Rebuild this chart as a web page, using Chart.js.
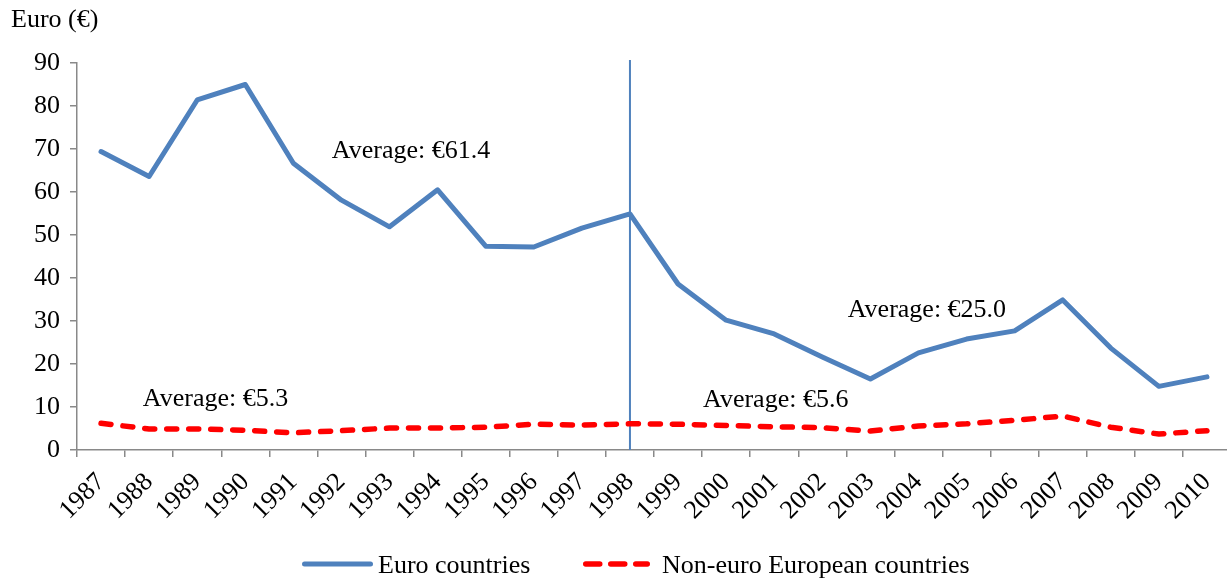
<!DOCTYPE html>
<html>
<head>
<meta charset="utf-8">
<script src="https://cdn.jsdelivr.net/npm/chart.js@4.4.1/dist/chart.umd.min.js"></script>
<style>
    html, body { margin: 0; padding: 0; background: #fff; overflow: hidden; }
    #wrap { width: 1240px; height: 579px; }
</style>
</head>
<body>
<div id="wrap"><canvas id="chart"></canvas></div>
<script>
const years = ['1987', '1988', '1989', '1990', '1991', '1992', '1993', '1994', '1995', '1996', '1997', '1998',
               '1999', '2000', '2001', '2002', '2003', '2004', '2005', '2006', '2007', '2008', '2009', '2010'];

const euroCountries = [69.4, 63.6, 81.4, 85.0, 66.7, 58.1, 51.9, 60.5, 47.4, 47.2, 51.6, 54.9,
                       38.6, 30.2, 27.0, 21.6, 16.5, 22.6, 25.8, 27.7, 34.9, 23.7, 14.8, 17.0];

const nonEuroCountries = [6.2, 4.9, 4.9, 4.6, 4.0, 4.5, 5.1, 5.1, 5.3, 6.0, 5.8, 6.1,
                          6.0, 5.7, 5.4, 5.2, 4.4, 5.6, 6.1, 6.9, 7.9, 5.3, 3.7, 4.5];

const yMin = 0;
const yMax = 90;
const yStep = 10;

const splitYear = '1998';

// average labels: text plus anchor in data units (category index, value)
const averageLabels = [
    { text: 'Average: €61.4', at: [4.80, 67.9] },
    { text: 'Average: €25.0', at: [15.53, 30.9] },
    { text: 'Average: €5.3', at: [0.87, 10.2] },
    { text: 'Average: €5.6', at: [12.52, 10.0] }
];

const FONT = '"Liberation Serif", "Times New Roman", serif';
const AXIS_GRAY = '#898989';

// legend is drawn by hand so the sample/text spacing matches the original
const legendSlots = [
    { x0: 302, x1: 373, textX: 378, dash: [] },
    { x0: 583, x1: 650, textX: 662, dash: [14, 11] }
];
const LEGEND_Y = 564;

const extras = {
    id: 'extras',
    beforeDatasetsDraw(chart) {
        const { ctx, chartArea, scales: { x } } = chart;
        const xd = x.getPixelForValue(years.indexOf(splitYear));
        ctx.save();
        ctx.strokeStyle = '#4F81BD';
        ctx.lineWidth = 2;
        ctx.beginPath();
        ctx.moveTo(xd, chartArea.top - 3);
        ctx.lineTo(xd, chartArea.bottom);
        ctx.stroke();
        ctx.restore();
    },
    afterDraw(chart) {
        const { ctx, scales: { x, y } } = chart;
        ctx.save();
        ctx.font = '26px ' + FONT;
        ctx.fillStyle = '#000';
        ctx.textAlign = 'left';
        ctx.textBaseline = 'alphabetic';
        averageLabels.forEach(l => {
            ctx.fillText(l.text, x.getPixelForValue(l.at[0]), y.getPixelForValue(l.at[1]));
        });
        ctx.fillText('Euro (€)', 11, 27);

        chart.data.datasets.forEach((ds, i) => {
            const s = legendSlots[i];
            const r = ds.borderWidth / 2;
            ctx.strokeStyle = ds.borderColor;
            ctx.lineWidth = ds.borderWidth;
            ctx.lineCap = 'round';
            ctx.setLineDash(s.dash);
            ctx.beginPath();
            ctx.moveTo(s.x0 + r, LEGEND_Y);
            ctx.lineTo(s.x1 - r, LEGEND_Y);
            ctx.stroke();
            ctx.setLineDash([]);
            ctx.fillStyle = '#000';
            ctx.fillText(ds.label, s.textX, LEGEND_Y + 9);
        });
        ctx.restore();
    }
};

new Chart(document.getElementById('chart'), {
    type: 'line',
    data: {
        labels: years,
        datasets: [
            {
                label: 'Euro countries',
                data: euroCountries,
                borderColor: '#4F81BD',
                backgroundColor: '#4F81BD',
                borderWidth: 5,
                borderCapStyle: 'round',
                borderJoinStyle: 'round',
                pointRadius: 0,
                tension: 0
            },
            {
                label: 'Non-euro European countries',
                data: nonEuroCountries,
                borderColor: '#FF0000',
                backgroundColor: '#FF0000',
                borderWidth: 5.5,
                borderDash: [10, 12],
                borderCapStyle: 'round',
                borderJoinStyle: 'round',
                pointRadius: 0,
                tension: 0
            }
        ]
    },
    options: {
        responsive: true,
        maintainAspectRatio: false,
        animation: false,
        layout: { padding: { top: 63, left: 0, right: 9, bottom: 0 } },
        plugins: {
            tooltip: { enabled: false },
            legend: { display: false }
        },
        scales: {
            x: {
                offset: true,
                grid: { offset: true, drawOnChartArea: false, tickLength: 7, color: AXIS_GRAY, lineWidth: 1.5 },
                border: { color: AXIS_GRAY, width: 1.5 },
                ticks: { autoSkip: false, minRotation: 45, maxRotation: 45, padding: 10, color: '#000', font: { family: FONT, size: 26 } },
                afterFit: s => { s.height = 129; }
            },
            y: {
                min: yMin,
                max: yMax,
                grid: { drawOnChartArea: false, tickLength: 7, color: AXIS_GRAY, lineWidth: 1.5 },
                border: { color: AXIS_GRAY, width: 1.5 },
                ticks: { stepSize: yStep, padding: 10, color: '#000', font: { family: FONT, size: 26 } },
                afterFit: s => { s.width = 77; }
            }
        }
    },
    plugins: [extras]
});
</script>
</body>
</html>
